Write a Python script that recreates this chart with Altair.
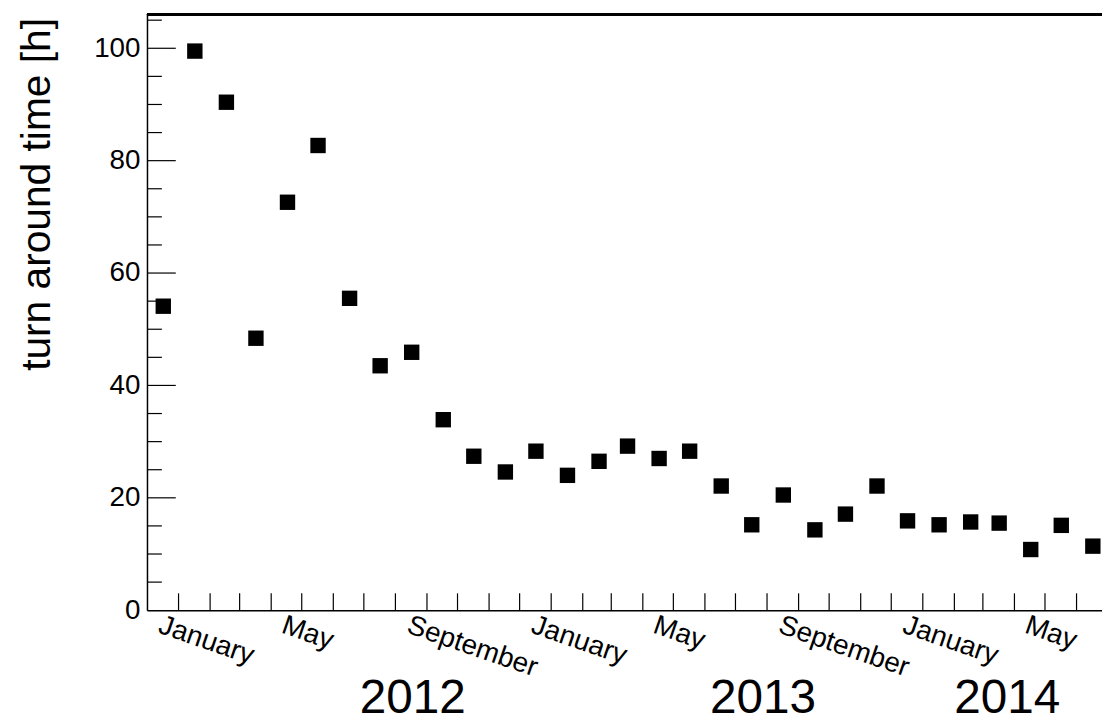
import altair as alt
import pandas as pd

# --- data -------------------------------------------------------------------
months = [
    "2011-12",
    "2012-01", "2012-02", "2012-03", "2012-04", "2012-05", "2012-06",
    "2012-07", "2012-08", "2012-09", "2012-10", "2012-11", "2012-12",
    "2013-01", "2013-02", "2013-03", "2013-04", "2013-05", "2013-06",
    "2013-07", "2013-08", "2013-09", "2013-10", "2013-11", "2013-12",
    "2014-01", "2014-02", "2014-03", "2014-04", "2014-05", "2014-06",
]
turnaround_h = [
    54.1,
    99.5, 90.4, 48.4, 72.6, 82.7, 55.5,
    43.5, 45.9, 33.9, 27.4, 24.6, 28.3,
    24.0, 26.5, 29.2, 27.0, 28.3, 22.1,
    15.2, 20.5, 14.3, 17.1, 22.1, 15.9,
    15.2, 15.7, 15.5, 10.8, 15.1, 11.4,
]
label_months = [(2012, 1), (2012, 5), (2012, 9), (2013, 1), (2013, 5),
                (2013, 9), (2014, 1), (2014, 5)]
year_labels = ["2012", "2013", "2014"]
year_label_dates = ["2012-08-18T00:00:00", "2013-07-28T00:00:00", "2014-03-25T00:00:00"]
y_major = [20, 40, 60, 80, 100]
y_minor = [5, 10, 15, 25, 30, 35, 45, 50, 55, 65, 70, 75, 85, 90, 95, 105]

# --- tables ------------------------------------------------------------------
points = pd.DataFrame({"date": [m + "-17T00:00:00" for m in months],
                       "value": turnaround_h})
xticks = pd.DataFrame({"date": [m + "-01T00:00:00" for m in months[1:]]})
years = pd.DataFrame({"date": year_label_dates, "label": year_labels})
ymaj = pd.DataFrame({"value": y_major})
ymin = pd.DataFrame({"value": y_minor})

W, H = 962, 600
FONT = "Liberation Sans"

xscale = alt.Scale(domain=[alt.DateTime(year=2011, month=12, date=1),
                           alt.DateTime(year=2014, month=6, date=26)])
yscale = alt.Scale(domain=[0, 106], nice=False, zero=False)

xaxis = alt.Axis(
    values=[alt.DateTime(year=y, month=m, date=1) for y, m in label_months],
    format="%B", labelAngle=19, labelAlign="left", labelBaseline="top",
    labelFontSize=28, labelOffset=-15, labelPadding=1, labelFont=FONT,
    labelColor="black", labelFlush=False, labelOverlap=False,
    ticks=False, tickSize=0, grid=False, title=None,
    domainColor="black", domainWidth=1.5,
)
yaxis = alt.Axis(
    values=[0, 20, 40, 60, 80, 100], labelFontSize=28, labelPadding=7,
    labelFont=FONT, labelColor="black", ticks=False, tickSize=0, grid=False,
    domainColor="black", domainWidth=1.5,
    title="turn around time [h]", titleFont=FONT, titleFontSize=41,
    titleFontWeight="normal", titleColor="black", titleAngle=270,
    titleAlign="right", titleBaseline="alphabetic", titleX=-98, titleY=3,
)

X = alt.X("date:T", scale=xscale, axis=xaxis)
Y = alt.Y("value:Q", scale=yscale, axis=yaxis)

pts = alt.Chart(points).mark_square(size=240, color="black", opacity=1, filled=True).encode(
    x=X, y=Y)

xt = alt.Chart(xticks).mark_rule(color="black", strokeWidth=1.2).encode(
    x=X, y=alt.value(H), y2=alt.value(H - 17))

ymj = alt.Chart(ymaj).mark_rule(color="black", strokeWidth=1.2).encode(
    y=Y, x=alt.value(0), x2=alt.value(29))

ymn = alt.Chart(ymin).mark_rule(color="black", strokeWidth=1.2).encode(
    y=Y, x=alt.value(0), x2=alt.value(15))

top = alt.Chart(points).mark_rule(color="black", strokeWidth=1.5).encode(
    x=alt.value(0), x2=alt.value(W), y=alt.value(0))

yrs = alt.Chart(years).mark_text(fontSize=48, font=FONT, baseline="alphabetic",
                                 align="center", color="black").encode(
    x=X, y=alt.value(704), text="label:N")

chart = alt.layer(pts, xt, ymj, ymn, top, yrs).properties(
    width=W, height=H,
    padding={"left": 140, "top": 4, "right": 0, "bottom": 110},
    autosize=alt.AutoSizeParams(type="none"),
).configure_view(stroke=None).configure(background="white")

chart.save("out.html", embed_options={"renderer": "svg", "actions": False})
